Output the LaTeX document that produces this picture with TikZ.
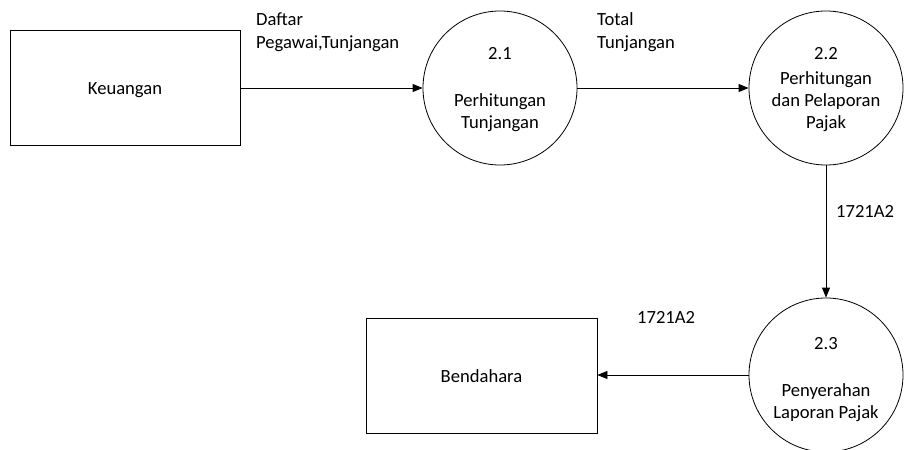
\documentclass[tikz,border=0pt]{standalone}
\usepackage{fontspec}
\setmainfont{Carlito}
\usetikzlibrary{arrows.meta}
\begin{document}
\begin{tikzpicture}[x=1pt,y=-1pt,
  ent/.style={draw, line width=0.8pt, inner sep=0, minimum width=230pt, minimum height=115pt},
  proc/.style={draw, circle, line width=0.8pt, inner sep=0, minimum size=154pt},
  txt/.style={anchor=base, inner sep=0, font=\fontsize{18.6}{22}\selectfont},
  ltxt/.style={txt, anchor=base west},
  flow/.style={line width=0.8pt, -{Triangle[length=10pt,width=8pt]}}]
\useasboundingbox (0,0) rectangle (914,450);

% external entities
\node[ent] (keu) at (125,88) {};
\node[ent, minimum width=231pt] (ben) at (481.5,375.5) {};
\node[txt] (keuT) at (125,94) {Keuangan};
\node[txt] (benT) at (481.5,382) {Bendahara};

% processes
\node[proc] (p21) at (500,88) {};
\node[proc] (p22) at (826,88) {};
\node[proc] (p23) at (826,375) {};

\node[txt] (p21a) at (500,59) {2.1};
\node[txt] (p21b) at (500,106) {Perhitungan};
\node[txt] (p21c) at (500,128) {Tunjangan};

\node[txt] (p22a) at (826,59) {2.2};
\node[txt] (p22b) at (826,84) {Perhitungan};
\node[txt] (p22c) at (826,106) {dan Pelaporan};
\node[txt] (p22d) at (826,128) {Pajak};

\node[txt] (p23a) at (826,349) {2.3};
\node[txt] (p23b) at (826,396) {Penyerahan};
\node[txt] (p23c) at (826,418) {Laporan Pajak};

% data flows
\draw[flow] (keu.east) -- (p21.west);
\draw[flow] (p21.east) -- (p22.west);
\draw[flow] (p22.south) -- (p23.north);
\draw[flow] (p23.west) -- (p23.west -| ben.east);

% flow labels
\node[ltxt] (f1a) at (256,25) {Daftar};
\node[ltxt] (f1b) at (256,48) {Pegawai,Tunjangan};
\node[ltxt] (f2a) at (597,25) {Total};
\node[ltxt] (f2b) at (597,48) {Tunjangan};
\node[ltxt] (f3) at (836,217) {1721A2};
\node[ltxt] (f4) at (637,323) {1721A2};
\end{tikzpicture}
\end{document}
